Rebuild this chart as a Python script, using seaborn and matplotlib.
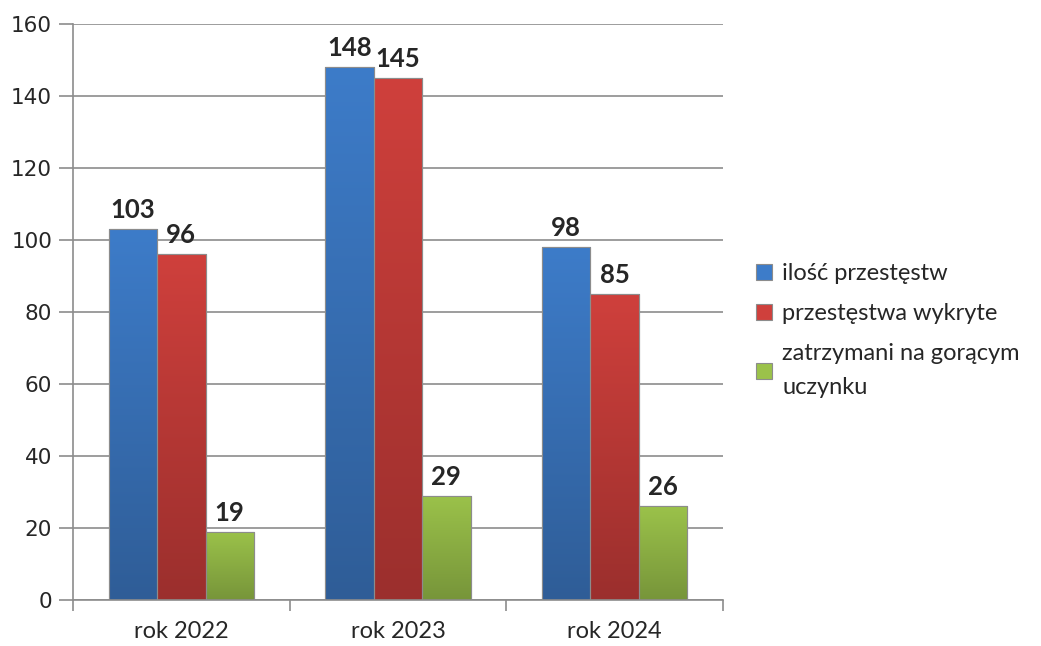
import numpy as np
import pandas as pd
import seaborn as sns
import matplotlib.pyplot as plt
from matplotlib.colors import LinearSegmentedColormap

# data
years = ['rok 2022', 'rok 2023', 'rok 2024']
series = ['ilość przestęstw', 'przestęstwa wykryte', 'zatrzymani na gorącym\nuczynku']
ilosc = [103, 148, 98]
wykryte = [96, 145, 85]
zatrzymani = [19, 29, 26]

colors_top = ['#3d7cc9', '#cf403c', '#9bc24a']
colors_bot = ['#2f5d97', '#9b2f2d', '#77953a']

df = pd.DataFrame({
    'rok': years * 3,
    'seria': [series[0]] * 3 + [series[1]] * 3 + [series[2]] * 3,
    'wartosc': ilosc + wykryte + zatrzymani,
})

sns.set_style('white')
plt.rcParams['font.family'] = ['Lato', 'DejaVu Sans']

fig = plt.figure(figsize=(10.41, 6.46), dpi=100)
ax = fig.add_axes([0.0701, 0.0712, 0.6244, 0.8916])

sns.barplot(data=df, x='rok', y='wartosc', hue='seria', palette=colors_top,
            width=0.67, gap=0, edgecolor='#8c8c8c', linewidth=0.8, ax=ax,
            legend=True, saturation=1)

ax.set_yticks(range(0, 161, 20))
ax.yaxis.grid(True, color='#8c8c8c', linewidth=1.2)
ax.set_axisbelow(True)
ax.set_xlabel('')
ax.set_ylabel('')

# gradient fill on bars
for i, cont in enumerate(ax.containers):
    cmap = LinearSegmentedColormap.from_list('g%d' % i, [colors_bot[i], colors_top[i]])
    grad = np.linspace(0, 1, 256).reshape(-1, 1)
    for bar in cont:
        x0, y0 = bar.get_x(), bar.get_y()
        w, h = bar.get_width(), bar.get_height()
        im = ax.imshow(grad, cmap=cmap, aspect='auto', origin='lower',
                       extent=[x0, x0 + w, y0, y0 + h], zorder=bar.get_zorder() + 0.1)
        im.set_clip_path(bar)
        ax.add_patch(plt.Rectangle((x0, y0), w, h, fill=False,
                                   edgecolor='#8c8c8c', linewidth=0.8,
                                   zorder=bar.get_zorder() + 0.2))
    ax.bar_label(cont, padding=5, fontsize=18.5, fontweight='bold')

ax.set_xlim(-0.5, 2.5)
ax.set_ylim(0, 160)

for s in ['top', 'right']:
    ax.spines[s].set_visible(False)
for s in ['left', 'bottom']:
    ax.spines[s].set_color('#8c8c8c')
    ax.spines[s].set_linewidth(1.2)

ax.tick_params(axis='y', which='major', length=10, color='#8c8c8c', width=1.2,
               labelsize=15.5, pad=5, left=True)
for t in ax.get_yticklabels():
    t.set_family(['DejaVu Sans'])
ax.tick_params(axis='x', which='major', length=0, labelsize=17, pad=15)
ax.set_xticks([-0.5, 0.5, 1.5, 2.5], minor=True)
ax.tick_params(axis='x', which='minor', length=8, color='#8c8c8c', width=1.2, bottom=True)

handles, labels = ax.get_legend_handles_labels()
leg = ax.legend(handles, labels, loc='upper left', bbox_to_anchor=(0.706, 0.625),
                bbox_transform=fig.transFigure, frameon=False, fontsize=17,
                handlelength=0.65, handleheight=0.65, handletextpad=0.45,
                labelspacing=0.8)
for t in leg.get_texts():
    t.set_linespacing(1.75)

fig.savefig('out.png', dpi=100)
